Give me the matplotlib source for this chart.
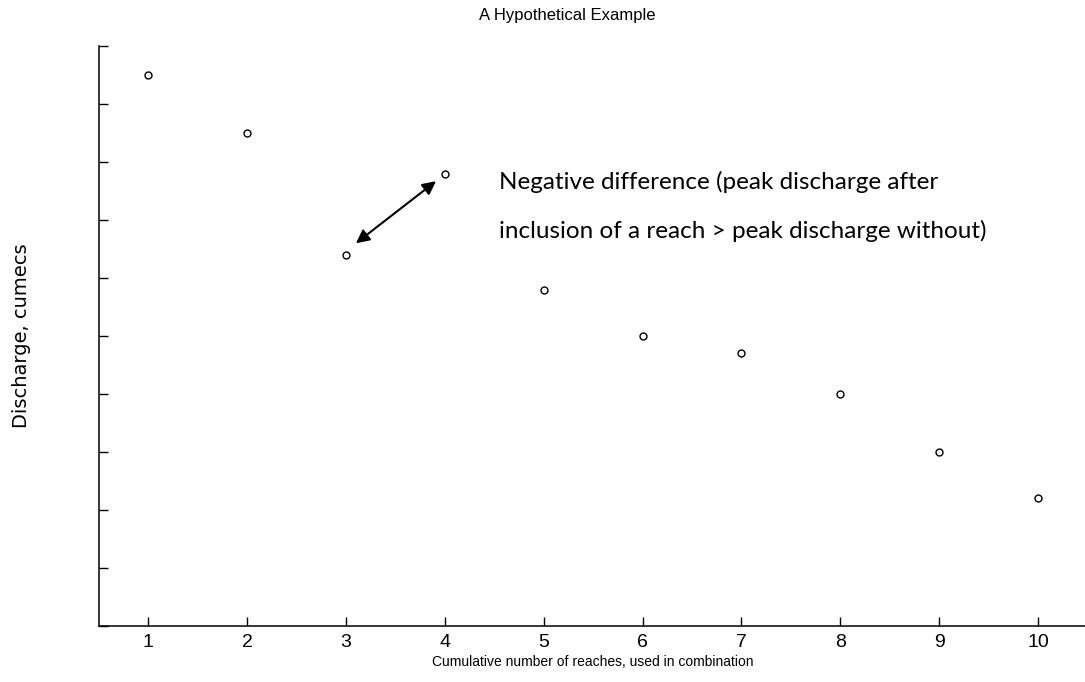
import matplotlib
matplotlib.use("Agg")
import matplotlib.pyplot as plt

# data
reaches = [1, 2, 3, 4, 5, 6, 7, 8, 9, 10]
discharge = [9.5, 8.5, 6.4, 7.8, 5.8, 5.0, 4.7, 4.0, 3.0, 2.2]
xtick_labels = [str(r) for r in reaches]

fig = plt.figure(figsize=(10.85, 6.82), dpi=100)
ax = fig.add_axes([0.0912, 0.0821, 0.911, 0.8504])

ax.plot(reaches, discharge, linestyle='none', marker='o', markersize=5,
        markerfacecolor='white', markeredgecolor='black', markeredgewidth=1)

ax.set_xlim(0.5, 10.5)
ax.set_ylim(0, 10)
ax.set_xticks(reaches)
ax.set_xticklabels(xtick_labels, fontsize=14, family='Liberation Sans')
ax.set_yticks(range(0, 11))
ax.set_yticklabels([])
ax.tick_params(direction='in', length=6.5, width=1, colors='black', pad=6)

ax.spines['top'].set_visible(False)
ax.spines['right'].set_visible(False)
ax.spines['left'].set_linewidth(1.1)
ax.spines['bottom'].set_linewidth(1.1)

title = ax.set_title('A Hypothetical Example', fontsize=12, family='Liberation Sans', pad=19)
title.set_x(0.474)
ax.set_xlabel('Cumulative number of reaches, used in combination', fontsize=10,
              family='Liberation Sans')
ax.xaxis.set_label_coords(0.5, -0.05)
ax.set_ylabel('Discharge, cumecs', fontsize=14, family='DejaVu Sans')
ax.yaxis.set_label_coords(-0.069, 0.5)

# double-headed arrow between reach 3 and reach 4
ax.annotate('', xy=(3.91, 7.67), xytext=(3.10, 6.60),
            arrowprops=dict(arrowstyle='<|-|>', color='black', lw=1.5,
                            mutation_scale=20, shrinkA=0, shrinkB=0))

ax.text(4.55, 7.65, 'Negative difference (peak discharge after', fontsize=17.5,
        family='Lato', va='center', ha='left')
ax.text(4.55, 6.82, 'inclusion of a reach > peak discharge without)', fontsize=17.5,
        family='Lato', va='center', ha='left')

fig.savefig('out.png', dpi=100)
